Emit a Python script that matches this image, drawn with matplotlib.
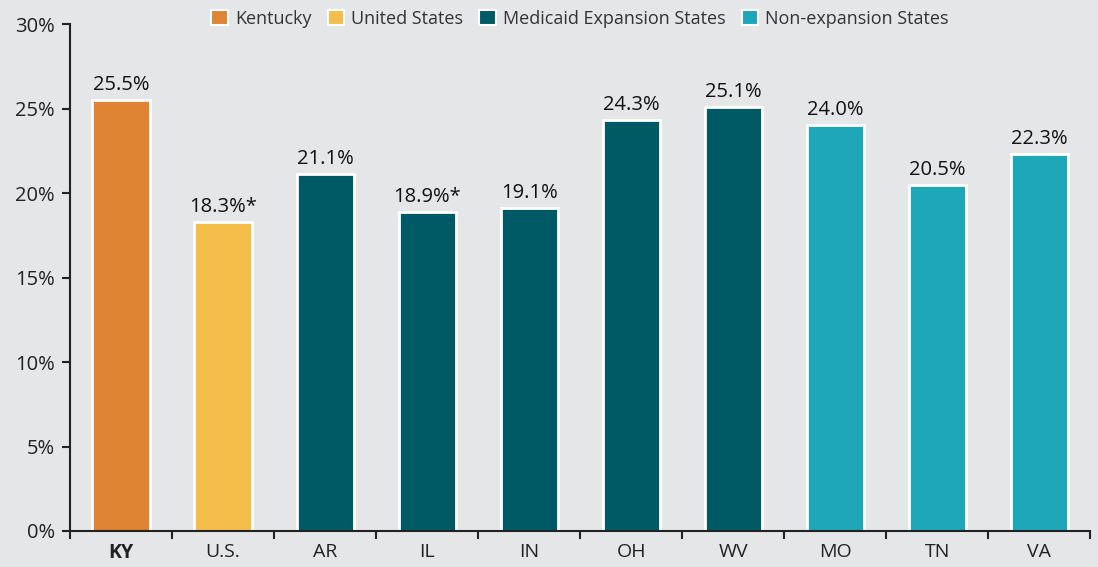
import matplotlib.pyplot as plt
from matplotlib.patches import Patch
from matplotlib.ticker import FixedLocator, NullFormatter

states = ["KY", "U.S.", "AR", "IL", "IN", "OH", "WV", "MO", "TN", "VA"]
values = [25.5, 18.3, 21.1, 18.9, 19.1, 24.3, 25.1, 24.0, 20.5, 22.3]
labels = ["25.5%", "18.3%*", "21.1%", "18.9%*", "19.1%", "24.3%", "25.1%", "24.0%", "20.5%", "22.3%"]
groups = ["Kentucky", "United States", "Medicaid Expansion States", "Non-expansion States"]
group_of = [0, 1, 2, 2, 2, 2, 2, 3, 3, 3]
colors = ["#DE8433", "#F5BE4A", "#005A66", "#1EA7B8"]

bg = "#E5E6E8"
plt.rcParams["font.family"] = ["Open Sans", "DejaVu Sans"]

fig = plt.figure(figsize=(10.98, 5.67), dpi=100, facecolor=bg)
ax = fig.add_axes([0.0638, 0.0635, 0.929, 0.894])
ax.set_facecolor(bg)

x = range(len(states))
bars = ax.bar(x, values, width=0.56, color=[colors[g] for g in group_of],
              edgecolor="white", linewidth=2)
for b, t in zip(bars, labels):
    ax.text(b.get_x() + b.get_width() / 2, b.get_height() + 0.3, t,
            ha="center", va="bottom", fontsize=14.5, color="#111111")

ax.set_xlim(-0.5, len(states) - 0.5)
ax.set_ylim(0, 30)
ax.set_yticks(range(0, 31, 5))
ax.set_yticklabels([f"{v}%" for v in range(0, 31, 5)], fontsize=14.5, color="#222222")
ax.set_xticks(list(x))
ax.set_xticklabels(states, fontsize=14, color="#222222")
ax.get_xticklabels()[0].set_fontweight("bold")
ax.tick_params(axis="x", length=0, pad=9)
ax.xaxis.set_minor_locator(FixedLocator([i - 0.5 for i in range(len(states) + 1)]))
ax.xaxis.set_minor_formatter(NullFormatter())
ax.tick_params(axis="x", which="minor", length=6, width=1.5, color="#222222", direction="out")
ax.tick_params(axis="y", length=6, width=1.5, color="#222222", direction="out", pad=5)

for s in ["top", "right"]:
    ax.spines[s].set_visible(False)
for s in ["left", "bottom"]:
    ax.spines[s].set_linewidth(1.5)
    ax.spines[s].set_color("#222222")

handles = [Patch(facecolor=c, edgecolor="white", linewidth=1.5) for c in colors]
ax.legend(handles, groups, ncol=4, loc="upper center", bbox_to_anchor=(0.5, 1.06),
          frameon=False, fontsize=13, handlelength=0.9, handleheight=0.9,
          handletextpad=0.4, columnspacing=0.9, labelcolor="#333333")

fig.savefig("out.png", dpi=100, facecolor=bg)
